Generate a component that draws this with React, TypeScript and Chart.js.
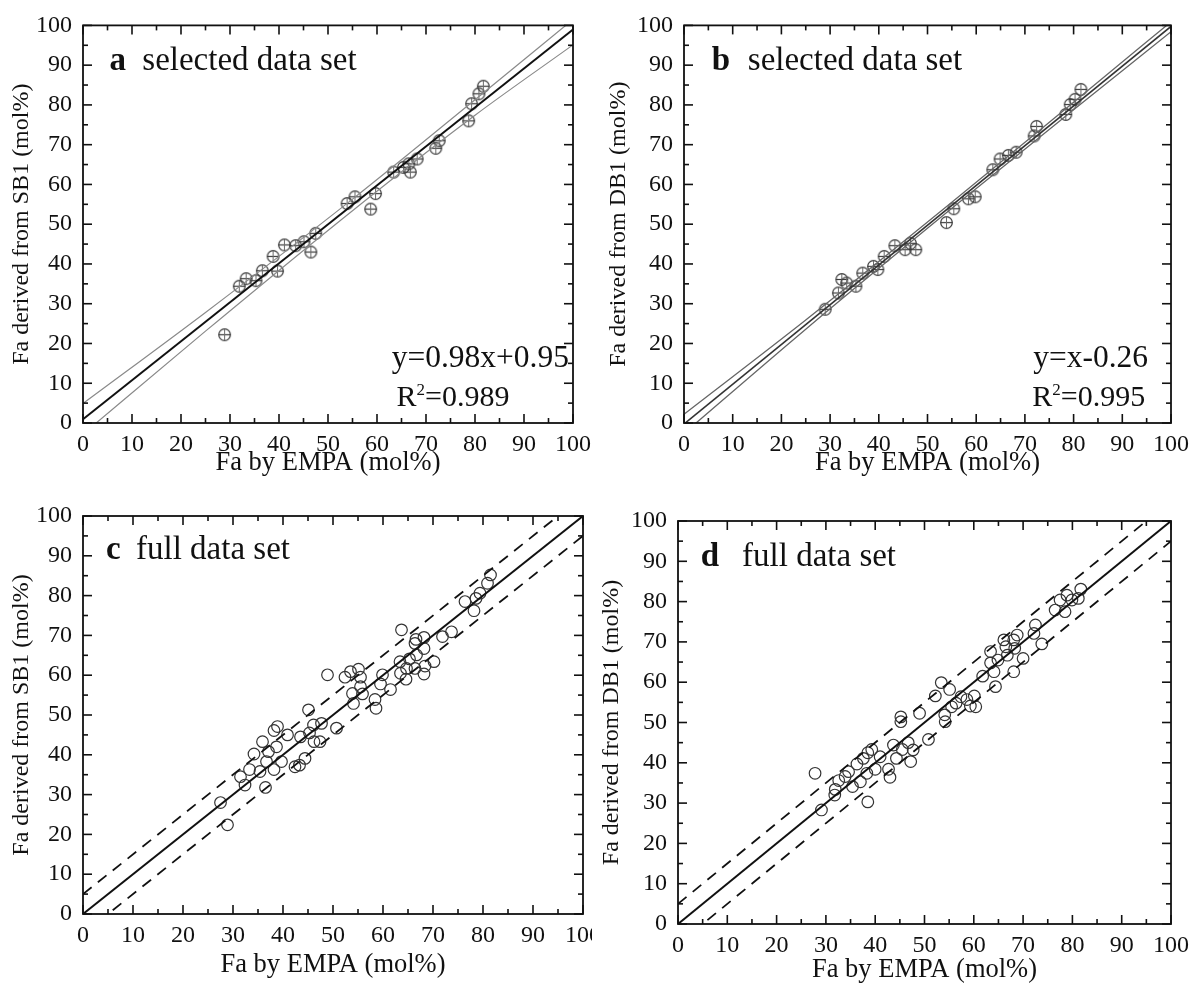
import React, { useEffect, useRef } from 'react';
import { Chart, registerables } from 'chart.js';

Chart.register(...registerables);

const SERIF = '"Liberation Serif", "Times New Roman", Times, serif';

// ---------- axes ----------
const majorTicks = [0, 10, 20, 30, 40, 50, 60, 70, 80, 90, 100];
const minorTicks = [5, 15, 25, 35, 45, 55, 65, 75, 85, 95];
const xTitleText = 'Fa by EMPA (mol%)';
const yTitleSB1 = 'Fa derived from SB1 (mol%)';
const yTitleDB1 = 'Fa derived from DB1 (mol%)';

// ---------- panel a : selected data set, SB1 ----------
const aEmpa = [28.9, 31.9, 33.3, 35.3, 36.6, 39.7, 38.8, 41.1, 43.4, 45.1, 46.5, 47.5, 53.9, 55.5, 58.7, 59.7, 63.4, 65.4, 66.8, 66.5, 68.2, 72.0, 72.7, 78.7, 79.3, 80.8, 81.7];
const aSB1 = [22.2, 34.4, 36.3, 35.8, 38.3, 38.2, 41.9, 44.8, 44.6, 45.6, 43.0, 47.7, 55.2, 56.9, 53.8, 57.7, 63.1, 64.3, 63.1, 65.2, 66.4, 69.1, 71.0, 76.0, 80.3, 82.8, 84.7];
const aFitX = [0, 100];
const aFitY = [0.95, 98.95];
const aBandX = [0, 25, 55, 80, 100];
const aUpperY = [4.9, 27.8, 56.3, 81.3, 101.5];
const aLowerY = [-2.8, 23.1, 53.4, 77.4, 95.1];

// ---------- panel b : selected data set, DB1 ----------
const bEmpa = [29.0, 31.7, 32.4, 33.4, 35.3, 36.7, 38.9, 39.8, 41.1, 43.3, 45.4, 46.5, 47.6, 53.9, 55.4, 58.4, 59.8, 63.4, 64.9, 66.6, 68.2, 71.9, 72.4, 78.4, 79.3, 80.3, 81.5];
const bDB1 = [28.6, 32.7, 36.1, 35.2, 34.4, 37.7, 39.4, 38.6, 41.9, 44.6, 43.6, 45.2, 43.6, 50.4, 53.9, 56.4, 56.9, 63.7, 66.4, 67.3, 68.1, 72.2, 74.6, 77.6, 80.1, 81.4, 83.9];
const bFitX = [0, 100];
const bFitY = [-0.26, 99.74];
const bBandX = [0, 25, 55, 80, 100];
const bUpperY = [2.2, 25.9, 55.5, 80.7, 100.9];
const bLowerY = [-2.6, 23.6, 54.0, 78.8, 98.4];

// ---------- panel c : full data set, SB1 ----------
const cEmpa = [28.9, 27.5, 36.5, 32.4, 31.5, 33.3, 34.2, 35.4, 36.7, 38.2, 39.7, 37.1, 35.9, 38.7, 38.2, 38.9, 40.9, 42.4, 43.3, 44.4, 43.5, 45.3, 46.1, 47.7, 46.2, 47.4, 45.1, 50.7, 48.9, 52.4, 53.5, 55.1, 55.5, 55.5, 53.9, 55.9, 54.1, 58.4, 58.6, 59.9, 59.5, 61.5, 63.7, 63.4, 63.5, 64.6, 65.3, 64.7, 66.6, 66.4, 68.2, 66.7, 68.2, 66.4, 68.4, 68.2, 70.2, 71.9, 73.7, 76.4, 78.2, 78.6, 79.4, 80.9, 81.5];
const cSB1 = [22.4, 28.0, 31.8, 32.4, 34.5, 36.3, 40.2, 35.8, 38.3, 36.3, 38.3, 40.8, 43.3, 42.0, 46.1, 47.1, 45.0, 37.0, 37.4, 39.1, 44.5, 45.5, 47.5, 47.9, 43.3, 43.3, 51.3, 46.7, 60.1, 59.5, 60.9, 61.5, 59.5, 57.1, 55.4, 55.3, 52.9, 53.9, 51.7, 60.1, 57.8, 56.4, 71.4, 63.4, 60.5, 59.0, 64.1, 61.7, 69.0, 68.0, 69.5, 65.1, 66.7, 61.7, 62.3, 60.3, 63.4, 69.7, 70.9, 78.5, 76.2, 79.3, 80.6, 83.1, 85.2];

// ---------- panel d : full data set, DB1 ----------
const dEmpa = [27.8, 29.1, 31.8, 31.9, 32.6, 33.9, 34.6, 35.4, 36.3, 37.0, 37.6, 38.3, 38.5, 39.3, 40.0, 38.5, 41.0, 42.7, 43.0, 43.7, 44.3, 45.2, 45.2, 45.5, 46.7, 47.2, 47.7, 49.0, 50.8, 52.2, 53.4, 55.1, 54.1, 54.2, 55.5, 56.4, 57.4, 58.6, 59.3, 60.1, 60.4, 61.8, 63.4, 63.4, 64.4, 64.1, 64.9, 66.1, 66.5, 66.8, 68.1, 68.3, 68.8, 68.1, 70.0, 72.5, 72.2, 73.8, 76.5, 77.5, 78.5, 78.9, 79.9, 81.2, 81.7];
const dDB1 = [37.4, 28.3, 32.0, 33.4, 35.6, 36.6, 37.8, 34.1, 39.7, 35.3, 41.1, 37.4, 42.5, 43.3, 38.4, 30.3, 41.5, 38.4, 36.4, 44.4, 41.1, 51.4, 50.2, 43.3, 45.0, 40.3, 43.2, 52.3, 45.8, 56.6, 59.9, 58.2, 51.9, 50.2, 53.9, 54.8, 56.4, 55.7, 54.1, 56.6, 53.9, 61.5, 64.8, 67.6, 58.9, 62.6, 65.5, 70.5, 68.8, 66.7, 70.5, 68.4, 71.7, 62.6, 65.9, 74.2, 72.1, 69.5, 77.9, 80.4, 77.5, 81.6, 80.4, 80.8, 83.1];

// 1:1 line and +/-5 mol% limits (panels c, d)
const oneX = [0, 100];
const oneY = [0, 100];
const plusX = [0, 100];
const plusY = [5, 105];
const minusX = [0, 100];
const minusY = [-5, 95];

type Run = { text: string; x?: number; size: number; bold?: boolean; rise?: number };
type Note = { x: number; y: number; runs: Run[] };
type LineDef = { xs: number[]; ys: number[]; color: string; width: number; dash?: number[]; smooth?: boolean };

interface PanelProps {
  left: number; top: number; width: number; height: number; clipWidth?: number;
  yAxisW: number; padTop: number; padRight: number; xAxisH: number;
  xTitlePad: number; yTitlePad: number;
  yTitle: string;
  xs: number[]; ys: number[];
  marker: 'cross' | 'open';
  lines: LineDef[];
  notes: Note[];
}

function makeCrossMarker(): HTMLCanvasElement {
  const c = document.createElement('canvas');
  c.width = 15; c.height = 15;
  const g = c.getContext('2d')!;
  g.strokeStyle = '#3a3a3a';
  g.lineWidth = 1.2;
  g.beginPath(); g.arc(7.5, 7.5, 5.8, 0, Math.PI * 2); g.stroke();
  g.beginPath(); g.moveTo(1.6, 7.5); g.lineTo(13.4, 7.5); g.stroke();
  g.strokeStyle = '#6a6a6a';
  g.lineWidth = 1;
  g.beginPath(); g.moveTo(7.5, 1.6); g.lineTo(7.5, 13.4); g.stroke();
  return c;
}

function framePlugin(notes: Note[]) {
  return {
    id: 'frameNotes',
    afterDraw(chart: any) {
      const ctx: CanvasRenderingContext2D = chart.ctx;
      const xs = chart.scales.x;
      const ys = chart.scales.y;
      const a = chart.chartArea;
      ctx.save();
      ctx.strokeStyle = '#111';
      ctx.lineWidth = 1.8;
      ctx.strokeRect(a.left, a.top, a.right - a.left, a.bottom - a.top);
      const seg = (x1: number, y1: number, x2: number, y2: number) => {
        ctx.beginPath(); ctx.moveTo(x1, y1); ctx.lineTo(x2, y2); ctx.stroke();
      };
      ctx.lineWidth = 1.6;
      const drawTicks = (vals: number[], len: number) => {
        for (const v of vals) {
          const px = xs.getPixelForValue(v);
          const py = ys.getPixelForValue(v);
          seg(px, a.bottom, px, a.bottom - len);
          seg(px, a.top, px, a.top + len);
          seg(a.left, py, a.left + len, py);
          seg(a.right, py, a.right - len, py);
        }
      };
      drawTicks(majorTicks, 9);
      drawTicks(minorTicks, 5);
      ctx.fillStyle = '#111';
      ctx.textAlign = 'left';
      ctx.textBaseline = 'alphabetic';
      for (const n of notes) {
        let cx = xs.getPixelForValue(n.x);
        const by = ys.getPixelForValue(n.y);
        for (const r of n.runs) {
          if (r.x !== undefined) cx = xs.getPixelForValue(r.x);
          ctx.font = `${r.bold ? 'bold ' : ''}${r.size}px ${SERIF}`;
          ctx.fillText(r.text, cx, by - (r.rise || 0));
          cx += ctx.measureText(r.text).width;
        }
      }
      ctx.restore();
    },
  };
}

function Panel(p: PanelProps) {
  const ref = useRef<HTMLCanvasElement>(null);
  useEffect(() => {
    const canvas = ref.current!;
    const marker = p.marker === 'cross' ? makeCrossMarker() : 'circle';
    const datasets: any[] = p.lines.map((l) => ({
      data: l.xs.map((x, i) => ({ x, y: l.ys[i] })),
      showLine: true,
      pointRadius: 0,
      borderColor: l.color,
      borderWidth: l.width,
      borderDash: l.dash || [],
      cubicInterpolationMode: l.smooth ? 'monotone' : 'default',
      tension: 0,
      fill: false,
      clip: 0,
    }));
    datasets.push({
      data: p.xs.map((x, i) => ({ x, y: p.ys[i] })),
      pointStyle: marker,
      pointRadius: 5.8,
      borderColor: '#333',
      borderWidth: 1.2,
      backgroundColor: 'rgba(0,0,0,0)',
      clip: 0,
    });
    const tickFont = { family: SERIF, size: 24 };
    const xTitleFont = { family: SERIF, size: 26.5, lineHeight: 1 };
    const yTitleFont = { family: SERIF, size: 24, lineHeight: 1 };
    const chart = new Chart(canvas, {
      type: 'scatter',
      data: { datasets },
      options: {
        animation: false,
        responsive: false,
        devicePixelRatio: 1,
        events: [],
        layout: { padding: { left: 0, top: p.padTop, right: p.padRight, bottom: 0 } },
        plugins: { legend: { display: false }, tooltip: { enabled: false } },
        scales: {
          x: {
            type: 'linear',
            position: 'bottom',
            min: 0,
            max: 100,
            afterFit: (s: any) => { s.height = p.xAxisH; },
            grid: { display: false, drawTicks: false },
            border: { display: false },
            afterBuildTicks: (s: any) => { s.ticks = majorTicks.map((v) => ({ value: v })); },
            ticks: { color: '#111', font: tickFont, padding: 7, maxRotation: 0, autoSkip: false },
            title: { display: true, text: xTitleText, color: '#111', font: xTitleFont, padding: { top: 0, bottom: p.xTitlePad } },
          },
          y: {
            type: 'linear',
            position: 'left',
            min: 0,
            max: 100,
            afterFit: (s: any) => { s.width = p.yAxisW; },
            grid: { display: false, drawTicks: false },
            border: { display: false },
            afterBuildTicks: (s: any) => { s.ticks = majorTicks.map((v) => ({ value: v })); },
            ticks: { color: '#111', font: tickFont, padding: 11, autoSkip: false },
            title: { display: true, text: p.yTitle, color: '#111', font: yTitleFont, padding: { top: p.yTitlePad, bottom: 0 } },
          },
        },
      } as any,
      plugins: [framePlugin(p.notes) as any],
    });
    return () => chart.destroy();
  }, []);
  return (
    <div
      style={{
        position: 'absolute',
        left: p.left,
        top: p.top,
        width: p.clipWidth ?? p.width,
        height: p.height,
        overflow: 'hidden',
      }}
    >
      <canvas ref={ref} width={p.width} height={p.height} style={{ display: 'block' }} />
    </div>
  );
}

const greyBand = '#8a8a8a';

export default function App() {
  return (
    <div style={{ position: 'absolute', left: 0, top: 0, width: 1196, height: 983, background: '#fff', overflow: 'hidden' }}>
      <Panel
        left={0} top={0} width={598} height={490}
        yAxisW={83} padTop={22} padRight={23} xAxisH={67}
        xTitlePad={14} yTitlePad={10}
        yTitle={yTitleSB1}
        xs={aEmpa} ys={aSB1} marker="cross"
        lines={[
          { xs: aBandX, ys: aUpperY, color: greyBand, width: 1.2, smooth: true },
          { xs: aBandX, ys: aLowerY, color: greyBand, width: 1.2, smooth: true },
          { xs: aFitX, ys: aFitY, color: '#111', width: 2 },
        ]}
        notes={[
          { x: 5.4, y: 88.9, runs: [{ text: 'a', size: 33, bold: true }, { text: 'selected data set', x: 12.1, size: 33 }] },
          { x: 63.0, y: 14.2, runs: [{ text: 'y=0.98x+0.95', size: 31.5 }] },
          { x: 64.0, y: 4.2, runs: [{ text: 'R', size: 30 }, { text: '2', size: 17, rise: 11 }, { text: '=0.989', size: 30 }] },
        ]}
      />
      <Panel
        left={598} top={0} width={598} height={490}
        yAxisW={86} padTop={21} padRight={25} xAxisH={67}
        xTitlePad={14} yTitlePad={9}
        yTitle={yTitleDB1}
        xs={bEmpa} ys={bDB1} marker="cross"
        lines={[
          { xs: bBandX, ys: bUpperY, color: '#666', width: 1.3, smooth: true },
          { xs: bBandX, ys: bLowerY, color: '#666', width: 1.3, smooth: true },
          { xs: bFitX, ys: bFitY, color: '#333', width: 1.6 },
        ]}
        notes={[
          { x: 5.7, y: 88.9, runs: [{ text: 'b', size: 33, bold: true }, { text: 'selected data set', x: 13.1, size: 33 }] },
          { x: 71.7, y: 14.2, runs: [{ text: 'y=x-0.26', size: 31.5 }] },
          { x: 71.5, y: 4.2, runs: [{ text: 'R', size: 30 }, { text: '2', size: 17, rise: 11 }, { text: '=0.995', size: 30 }] },
        ]}
      />
      <Panel
        left={0} top={490} width={620} clipWidth={592} height={493}
        yAxisW={83} padTop={26} padRight={37} xAxisH={69}
        xTitlePad={5} yTitlePad={10}
        yTitle={yTitleSB1}
        xs={cEmpa} ys={cSB1} marker="open"
        lines={[
          { xs: plusX, ys: plusY, color: '#111', width: 1.8, dash: [11, 8] },
          { xs: minusX, ys: minusY, color: '#111', width: 1.8, dash: [11, 8] },
          { xs: oneX, ys: oneY, color: '#111', width: 2 },
        ]}
        notes={[
          { x: 4.6, y: 89.2, runs: [{ text: 'c', size: 33, bold: true }, { text: 'full data set', x: 10.6, size: 33 }] },
        ]}
      />
      <Panel
        left={592} top={490} width={604} height={493}
        yAxisW={86} padTop={31} padRight={21} xAxisH={59}
        xTitlePad={0} yTitlePad={8}
        yTitle={yTitleDB1}
        xs={dEmpa} ys={dDB1} marker="open"
        lines={[
          { xs: plusX, ys: plusY, color: '#111', width: 1.8, dash: [11, 8] },
          { xs: minusX, ys: minusY, color: '#111', width: 1.8, dash: [11, 8] },
          { xs: oneX, ys: oneY, color: '#111', width: 2 },
        ]}
        notes={[
          { x: 4.6, y: 88.9, runs: [{ text: 'd', size: 33, bold: true }, { text: 'full data set', x: 13.0, size: 33 }] },
        ]}
      />
    </div>
  );
}
